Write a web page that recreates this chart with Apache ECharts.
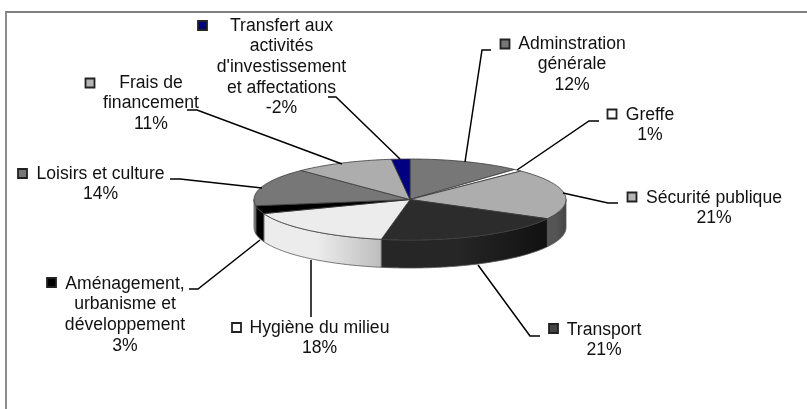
<!DOCTYPE html>
<html>
<head>
<meta charset="utf-8">
<script src="https://cdn.jsdelivr.net/npm/echarts@6/dist/echarts.min.js"></script>
<style>
html, body { margin: 0; padding: 0; background: #fff; }
#chart { width: 807px; height: 409px; }
</style>
</head>
<body>
<div id="chart"></div>
<script>
var names = ['Adminstration générale', 'Greffe', 'Sécurité publique', 'Transport', 'Hygiène du milieu',
    'Aménagement, urbanisme et développement', 'Loisirs et culture', 'Frais de financement',
    "Transfert aux activités d'investissement et affectations"];
var percentLabels = ['12%', '1%', '21%', '21%', '18%', '3%', '14%', '11%', '-2%'];
// slice sizes as they are drawn in the picture (the 3d view skews them a little from the labels)
var sliceShares = [11.7, 0.9, 20.3, 20.1, 16.4, 3.2, 15.2, 10.4, 1.9];

var topColors = ['#777777', '#ffffff', '#adadad', '#2c2c2c', '#ececec', '#000000', '#777777', '#adadad', '#000080'];
var sideLeft = ['#666666', '#dddddd', '#555555', '#262626', '#ececec', '#000000', '#8a8a8a', '#8a8a8a', '#000060'];
var sideRight = ['#666666', '#dddddd', '#444444', '#111111', '#bdbdbd', '#000000', '#666666', '#8a8a8a', '#000060'];
var markerColors = ['#777777', '#ffffff', '#b4b4b4', '#444444', '#ffffff', '#000000', '#777777', '#b4b4b4', '#000080'];

// wrapped text of each label, and where it sits
var labelLayout = [
    { lines: ['Adminstration', 'générale'], x: 572, y: 44, marker: [505, 44],
      leader: [[465, 162], [482, 50], [491, 50]] },
    { lines: ['Greffe'], x: 650, y: 115, marker: [612, 114],
      leader: [[517, 170], [589, 121], [599, 121]] },
    { lines: ['Sécurité publique'], x: 714, y: 198, marker: [632, 197],
      leader: [[563, 193], [608, 203], [618, 203]] },
    { lines: ['Transport'], x: 604, y: 330, marker: [553.5, 328.5],
      leader: [[478, 265], [530, 336], [540, 336]] },
    { lines: ['Hygiène du milieu'], x: 319.5, y: 328, marker: [236.5, 327.5],
      leader: [[311, 260], [311, 317]] },
    { lines: ['Aménagement,', 'urbanisme et', 'développement'], x: 125, y: 284, marker: [51.5, 282.5],
      leader: [[260, 240], [198, 289], [189, 289]] },
    { lines: ['Loisirs et culture'], x: 100.5, y: 174, marker: [22.5, 173.5],
      leader: [[262, 188], [180, 179], [170, 179]] },
    { lines: ['Frais de', 'financement'], x: 151, y: 83, marker: [90, 83],
      leader: [[342, 164], [197, 110], [187, 110]] },
    { lines: ['Transfert aux', 'activités', "d'investissement", 'et affectations'], x: 281.5, y: 26, marker: [202.5, 25.5],
      leader: [[400, 159], [336, 97], [328, 97]] }
];

var cx = 410, cy = 199.5, rx = 156, ry = 40.5, depth = 28;
var lineHeight = 20.6;

var total = sliceShares.reduce(function (a, b) { return a + b; }, 0);
var sliceRows = [];
var running = 0;
sliceShares.forEach(function (v, i) {
    sliceRows.push([running / total * 360, (running + v) / total * 360, i]);
    running += v;
});

function rim(deg, dy) {
    var a = deg * Math.PI / 180;
    return [cx + rx * Math.sin(a), cy - ry * Math.cos(a) + (dy || 0)];
}

function arc(from, to, dy) {
    var pts = [];
    var n = Math.max(2, Math.ceil(Math.abs(to - from)));
    for (var k = 0; k <= n; k++) {
        pts.push(rim(from + (to - from) * k / n, dy));
    }
    return pts;
}

function renderSide(params, api) {
    var from = Math.max(api.value(0), 90);
    var to = Math.min(api.value(1), 270);
    if (to <= from) {
        return { type: 'group', children: [] };
    }
    var i = api.value(2);
    return {
        type: 'polygon',
        shape: { points: arc(from, to, 0).concat(arc(to, from, depth)) },
        style: {
            fill: {
                type: 'linear', x: 0, y: 0, x2: 1, y2: 0,
                colorStops: [
                    { offset: 0, color: sideLeft[i] },
                    { offset: 0.45, color: sideLeft[i] },
                    { offset: 1, color: sideRight[i] }
                ]
            },
            stroke: '#555555',
            lineWidth: 0.8
        }
    };
}

function renderTop(params, api) {
    var i = api.value(2);
    return {
        type: 'polygon',
        shape: { points: [[cx, cy]].concat(arc(api.value(0), api.value(1), 0)) },
        style: { fill: topColors[i], stroke: '#3a3a3a', lineWidth: 0.8 }
    };
}

var graphics = [
    { type: 'line', shape: { x1: 6, y1: 12, x2: 807, y2: 12 }, style: { stroke: '#808080', lineWidth: 1.8 } },
    { type: 'line', shape: { x1: 6, y1: 11, x2: 6, y2: 409 }, style: { stroke: '#808080', lineWidth: 1.8 } }
];

labelLayout.forEach(function (lab, i) {
    graphics.push({
        type: 'polyline',
        shape: { points: lab.leader },
        style: { stroke: '#000', lineWidth: 1.5, fill: null },
        z: 5
    });
    graphics.push({
        type: 'rect',
        shape: { x: lab.marker[0] - 4.5, y: lab.marker[1] - 4.5, width: 9, height: 9 },
        style: { fill: markerColors[i], stroke: '#222', lineWidth: 1.8 },
        z: 6
    });
    lab.lines.concat(percentLabels[i]).forEach(function (line, k) {
        graphics.push({
            type: 'text',
            style: {
                text: line,
                x: lab.x,
                y: lab.y + k * lineHeight,
                align: 'center',
                verticalAlign: 'middle',
                fill: '#111',
                font: '17.6px "Liberation Sans", Arial, sans-serif'
            },
            z: 7
        });
    });
});

var chart = echarts.init(document.getElementById('chart'), null, { renderer: 'canvas' });
chart.setOption({
    animation: false,
    backgroundColor: '#fff',
    graphic: graphics,
    series: [
        { type: 'custom', coordinateSystem: 'none', renderItem: renderSide, data: sliceRows, silent: true, z: 1 },
        { type: 'custom', coordinateSystem: 'none', renderItem: renderTop, data: sliceRows, silent: true, z: 2 }
    ]
});
</script>
</body>
</html>
